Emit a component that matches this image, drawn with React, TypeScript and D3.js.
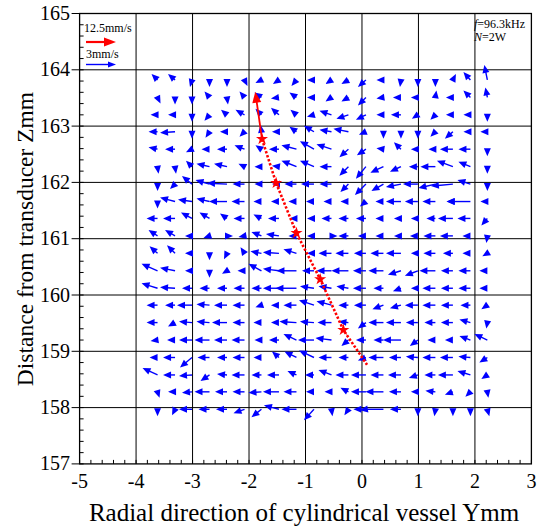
import * as d3 from "d3"

// grid of measurement points (mm)
const colY = [-3.62, -3.31, -3.01, -2.7, -2.39, -2.08, -1.78, -1.47, -1.16, -0.85, -0.54, -0.24, 0.07, 0.38, 0.69, 0.99, 1.3, 1.61, 1.92, 2.22]
const rowZ = [163.82, 163.51, 163.2, 162.9, 162.59, 162.28, 161.97, 161.66, 161.36, 161.05, 160.74, 160.43, 160.12, 159.82, 159.51, 159.2, 158.89, 158.58, 158.28, 157.97]

// velocity components (mm/s), one row per rowZ entry
const velU = [
  [-0.6, -0.7, -0.2, 0, 0, 0.3, -0.6, -0.6, -0.5, -0.7, -0.6, -0.7, -0.8, -0.7, -0.1, 0, 0, 0.3, -0.7, -0.3],
  [0.3, 0, 0, -0.5, 0.1, -0.5, -0.7, -0.8, -0.7, -0.7, -0.6, -0.7, -0.8, -0.7, -0.8, -0.7, 0.1, -0.7, -0.7, -0.2],
  [-0.7, -0.7, 0, -0.5, -0.6, -0.9, -0.6, -0.8, -0.6, -0.7, -1.2, -1.2, -1.0, -0.7, -1.0, -0.6, -0.5, -0.7, -0.7, 0],
  [-0.9, -1.5, 0, -0.4, -0.7, -0.5, -0.1, -0.7, -0.7, -1.0, -1.2, -1.5, -0.7, 0, 0, 0, -0.5, -0.8, -0.7, -0.7],
  [-0.9, -1.0, -0.6, -0.8, -1.0, -1.0, -0.6, -1.0, -1.5, -1.4, -1.5, -0.9, -0.9, -0.7, -0.7, -0.7, -0.7, -1.3, -1.2, 0],
  [0.1, 0.1, -0.6, -1.3, -1.3, -0.6, -0.7, -0.7, -1.5, -1.4, -1.2, -0.9, -1.0, -1.3, -1.1, -0.9, -1.5, -1.6, -1.2, 0],
  [0, -0.5, -1.0, -1.4, -2.0, -1.2, -0.7, -0.7, -1.2, -1.3, -1.2, -0.8, -1.1, -1.2, -1.5, -1.5, -1.7, -2.2, -1.3, 0],
  [0, -1.5, -1.4, -1.3, -1.8, -1.3, -0.8, -0.8, -0.8, -0.8, -0.8, -0.8, -0.6, -0.8, -1.5, -1.3, -1.3, -0.6, -2.4, -0.7],
  [-1.1, -1.2, -1.1, -1.0, -0.7, -1.1, -0.8, -1.1, -0.7, -0.7, -1.0, -1.0, -1.0, -0.8, -0.7, -0.7, -0.9, -1.5, -1.3, -0.6],
  [-0.9, -1.0, -0.7, -0.6, 0.6, -0.6, -1.0, -1.3, -0.8, -0.7, 0.6, -1.0, -0.8, -0.8, -0.7, -0.8, -1.2, -1.3, -0.8, -0.1],
  [-0.8, -0.8, -0.7, 0, -0.3, -0.4, -1.1, -1.6, -1.3, -0.7, -1.3, -1.3, -1.2, -1.3, -1.5, -0.7, -1.2, -1.0, -0.8, -0.5],
  [-1.6, -1.5, -0.7, 0, -0.5, -0.7, -1.3, -1.6, -2.0, -1.2, -1.5, -1.7, -1.3, -1.5, -1.3, -1.3, -1.6, -1.2, -1.2, -0.8],
  [-1.6, -1.5, -1.0, -1.0, -1.0, -1.1, -1.0, -1.6, -2.1, -1.4, -1.3, -1.2, -1.3, -1.0, -0.8, -0.7, -1.3, -1.2, -1.2, -0.8],
  [-1.1, -1.0, -1.5, -1.3, -1.3, -1.2, -0.6, -0.8, -1.3, -1.5, -1.5, -1.0, -1.2, -1.1, -1.1, -1.3, -1.3, -1.2, -1.0, -0.6],
  [-1.1, -0.7, -1.3, -1.3, -1.5, -1.2, -0.8, -0.8, -1.7, -1.4, -1.4, -1.0, -0.8, -1.5, -1.5, -1.2, -1.1, -1.2, -1.1, -0.1],
  [-0.7, -0.8, -1.3, -1.5, -1.3, -1.3, -0.7, -1.0, -1.3, -1.6, -1.6, -0.7, -1.0, -1.0, -1.8, -0.8, -0.8, -0.8, -1.1, -1.3],
  [-0.8, -1.2, -1.2, -1.2, -1.0, -1.2, -0.8, -0.7, -1.2, -1.5, -1.3, -1.0, -0.8, -1.5, -1.2, -1.2, -1.3, -1.3, -1.2, -0.8],
  [-1.5, -1.2, -1.3, -0.9, -1.0, -1.3, -1.0, -1.2, -0.9, -0.9, -1.3, -1.3, -1.5, -1.3, -1.3, -0.9, -1.1, -1.5, -1.3, -0.6],
  [0.2, -0.7, -1.0, -1.5, -1.2, -1.2, -1.3, -1.6, -1.3, -0.8, -0.7, -0.8, -1.5, -1.8, -1.2, -0.7, -1.0, -0.8, -0.5, 0.1],
  [0, -0.3, -1.3, -1.1, -1.1, -1.1, -1.0, -1.5, -1.5, -1.0, 0.1, -0.4, -0.6, -3.0, -1.1, 0, -0.1, 0, 0, 0.2],
]
const velV = [
  [0.6, 0.6, -0.7, -0.7, -0.7, -0.6, -0.3, -0.4, -0.6, 0, -0.4, -0.4, -0.7, 0, -0.7, -0.7, -0.7, 0.6, 0.8, 1.5],
  [-0.6, -0.7, -0.7, 0.6, -0.7, 0.6, 0.5, -0.1, 0.5, 0, -0.4, -0.4, -0.8, -0.1, 0, 0, 0.7, 0, 0.7, 1.0],
  [0, 0, -0.7, -0.6, 0.5, 0.5, 0.6, 0.7, 0.5, -0.2, 0.4, -0.4, -0.5, 0, 0, -0.4, -0.5, 0, 0, -0.7],
  [0, -0.1, -0.7, -0.6, 0, -0.5, 0.7, 0, 0.5, 0.6, 0.2, 0.3, -0.3, -0.7, -0.7, -0.7, -0.5, -0.7, 0, 0],
  [0.2, 0, -0.3, 0, 0, 0.4, 0.4, 0, 0.4, 0.8, 0.5, -0.8, -0.6, 0.1, 0.7, 0, 0, 0, 0, -0.7],
  [-0.7, -0.7, 0.6, 0.3, 0.3, 0.3, 0, 0.1, 0.6, 0.6, 0, -0.9, -1.2, -0.6, -0.5, 0, 0, 0.6, 0.5, -0.7],
  [-0.7, -0.5, 0.8, 0.4, 0.1, 0, 0, 0, 0, 0, 0, -0.8, -1.1, -0.7, -0.3, 0, -0.4, -0.2, 0.4, -0.7],
  [-0.7, 0.4, 0.2, 0.3, 0, 0, 0, 0, 0, 0, 0, 0, -0.5, 0, 0, 0, 0, 0, 0, 0],
  [0, 0, 0.6, 0.6, 0.5, 0, 0.4, 0, 0, 0, 0, 0, 0, 0, 0, 0, 0, 0, 0, -0.7],
  [0.6, 0.6, 0, -0.2, 0, -0.1, 0.4, 0.2, 0, 0, 0, 0, 0, 0, 0, 0, 0, 0, 0, -0.7],
  [0.7, 0.8, 0, -0.7, -0.6, 0.6, 0.2, 0.1, 0.4, 0, 0, 0, 0, 0, 0, 0, 0, 0, 0, -0.3],
  [0.7, 0.3, 0, -0.7, -0.3, 0, 0.7, 0.2, 0, 0, 0, 0, 0, 0, -0.4, -0.5, 0, 0, 0, 0],
  [0.5, 0.1, 0, 0, 0, 0, 0, 0, 0, 0.2, 0.2, 0.2, 0, 0, -0.3, 0, 0, 0, 0, 0],
  [0, 0, 0, 0.1, 0, 0, -0.2, 0, 0, 0.5, 0.4, 0, 0, -0.4, -0.3, 0, 0, 0, 0, -0.4],
  [0, -0.4, 0.1, 0.1, 0, 0, 0, 0, 0.1, 0.1, 0, 0.1, -0.6, 0, 0, 0, 0, 0, 0.3, -0.6],
  [-0.1, 0, 0, 0, 0, 0, 0, 0, 0.6, 0, 0.2, -0.6, 0, 0, 0, -0.6, 0, 0, 0.4, 0.6],
  [0, 0, -1.0, 0, 0, 0, 0, 0.6, 0.6, 0.7, 0, 0, -0.3, 0, 0, 0.1, 0, 0, 0.1, -0.5],
  [0.7, 0, -0.1, -0.6, 0.1, 0, 0, 0, 0.4, 0, 0.5, 0, 0, 0, 0, -0.3, 0, 0, 0.4, -0.4],
  [-0.6, 0, -0.1, 0, 0, 0, -0.1, 0, 0, 0, 0, 0.4, 0, 0, 0, 0, 0.1, -0.3, -0.5, -0.6],
  [-0.7, -0.6, 0, 0, 0, -0.4, -0.8, 0.4, 0, -1.1, -0.7, -0.6, -0.1, 0, 0, -0.7, -0.7, -0.7, -0.7, -0.7],
]

// particle track (red)
const trackY = [-1.77, -1.52, -1.16, -0.74, -0.33, 0.09]
const trackZ = [162.77, 161.99, 161.1, 160.28, 159.38, 158.76]
const starIdx = [0, 1, 2, 3, 4]
const redTip = { y: -1.89, z: 163.61 }

const xTicks = [-5, -4, -3, -2, -1, 0, 1, 2, 3]
const yTicks = [157, 158, 159, 160, 161, 162, 163, 164, 165]

const W = 541
const H = 527
const serif = "Liberation Serif, DejaVu Serif, Times New Roman, serif"
const BLUE = "#0000ff"
const RED = "#ff0000"

function arrowPath(x1: number, y1: number, x2: number, y2: number, headLen: number, headHalf: number) {
  const dx = x2 - x1
  const dy = y2 - y1
  const len = Math.hypot(dx, dy) || 1
  const ux = dx / len
  const uy = dy / len
  const bx = x2 - ux * headLen
  const by = y2 - uy * headLen
  const head = `M${x2},${y2}L${bx - uy * headHalf},${by + ux * headHalf}L${bx + uy * headHalf},${by - ux * headHalf}Z`
  const line = len > headLen ? `M${x1},${y1}L${bx + ux * 1},${by + uy * 1}` : ""
  return { head, line }
}

export default function App() {
  const x = d3.scaleLinear().domain([-5, 3]).range([79.6, 531.4])
  const y = d3.scaleLinear().domain([157, 165]).range([463.9, 13.5])
  const vScale = d3.scaleLinear().domain([0, 3]).range([0, 30])
  const redScale = d3.scaleLinear().domain([0, 12.5]).range([0, 30])

  const minor = d3.range(-5, 3.001, 0.2)
  const minorY = d3.range(157, 165.001, 0.2)

  const vectors: { d: string; h: string }[] = []
  rowZ.forEach((z, r) => {
    colY.forEach((cx, c) => {
      const x1 = x(cx)
      const y1 = y(z)
      const x2 = x1 + vScale(velU[r][c])
      const y2 = y1 - vScale(velV[r][c])
      const a = arrowPath(x1, y1, x2, y2, 8, 3.5)
      vectors.push({ d: a.line, h: a.head })
    })
  })

  const trackLine = d3
    .line<number>()
    .x((i) => x(trackY[i]))
    .y((i) => y(trackZ[i]))(trackY.map((_, i) => i))

  const redArrow = arrowPath(x(trackY[0]), y(trackZ[0]), x(redTip.y), y(redTip.z), 11, 4.5)
  const star = d3.symbol(d3.symbolStar, 45)()

  const legRed = arrowPath(86, 42, 86 + redScale(12.5), 42, 12, 4.5)
  const legBlue = arrowPath(86, 64.5, 86 + vScale(3), 64.5, 8, 3)

  return (
    <svg width={W} height={H} style={{ position: "absolute", left: 0, top: 0, background: "#fff" }}>
      <rect x={0} y={0} width={W} height={H} fill="#fff" />
      {/* grid */}
      {xTicks.slice(1, -1).map((t) => (
        <line key={"gx" + t} x1={x(t)} x2={x(t)} y1={y(165)} y2={y(157)} stroke="#000" strokeWidth={1} />
      ))}
      {yTicks.slice(1, -1).map((t) => (
        <line key={"gy" + t} x1={x(-5)} x2={x(3)} y1={y(t)} y2={y(t)} stroke="#000" strokeWidth={1} />
      ))}
      {/* minor ticks */}
      {minor.map((t, i) => (
        <line key={"mx" + i} x1={x(t)} x2={x(t)} y1={y(157)} y2={y(157) - 4} stroke="#000" />
      ))}
      {minorY.map((t, i) => (
        <line key={"my" + i} x1={x(-5)} x2={x(-5) + 4} y1={y(t)} y2={y(t)} stroke="#000" />
      ))}
      {yTicks.map((t) => (
        <line key={"ty" + t} x1={x(-5) - 8} x2={x(-5)} y1={y(t)} y2={y(t)} stroke="#000" />
      ))}
      <rect x={x(-5)} y={y(165)} width={x(3) - x(-5)} height={y(157) - y(165)} fill="none" stroke="#000" strokeWidth={1.3} />

      {/* tick labels */}
      {xTicks.map((t) => (
        <text key={"lx" + t} x={x(t)} y={488} textAnchor="middle" fontFamily={serif} fontSize={20}>
          {t < 0 ? "-" + Math.abs(t) : t}
        </text>
      ))}
      {yTicks.map((t) => (
        <text key={"ly" + t} x={70} y={y(t) + 6.5} textAnchor="end" fontFamily={serif} fontSize={20}>
          {t}
        </text>
      ))}
      <text x={304} y={521} textAnchor="middle" fontFamily={serif} fontSize={25}>
        Radial direction of cylindrical vessel Ymm
      </text>
      <text transform="translate(33,239) rotate(-90)" textAnchor="middle" fontFamily={serif} fontSize={23.5}>
        Distance from transducer Zmm
      </text>

      {/* vectors */}
      <g>
        {vectors.map((v, i) => (
          <g key={"v" + i}>
            {v.d && <path d={v.d} stroke={BLUE} strokeWidth={1.4} fill="none" />}
            <path d={v.h} fill={BLUE} />
          </g>
        ))}
      </g>

      {/* red track */}
      <path d={trackLine ?? ""} stroke={RED} strokeWidth={2.6} strokeDasharray="2.4 1.8" fill="none" />
      <path d={redArrow.line} stroke={RED} strokeWidth={1.8} fill="none" />
      <path d={redArrow.head} fill={RED} />
      {starIdx.map((i) => (
        <path key={"s" + i} d={star ?? ""} transform={`translate(${x(trackY[i])},${y(trackZ[i])})`} fill={RED} />
      ))}

      {/* legend */}
      <text x={84} y={32} fontFamily={serif} fontSize={12}>12.5mm/s</text>
      <path d={legRed.line} stroke={RED} strokeWidth={2.2} fill="none" />
      <path d={legRed.head} fill={RED} />
      <text x={86} y={58} fontFamily={serif} fontSize={12}>3mm/s</text>
      <path d={legBlue.line} stroke={BLUE} strokeWidth={1.4} fill="none" />
      <path d={legBlue.head} fill={BLUE} />

      <text x={474} y={28} fontFamily={serif} fontSize={12}>
        <tspan fontStyle="italic">f</tspan>=96.3kHz
      </text>
      <text x={474} y={41} fontFamily={serif} fontSize={12}>
        <tspan fontStyle="italic">N</tspan>=2W
      </text>
    </svg>
  )
}
